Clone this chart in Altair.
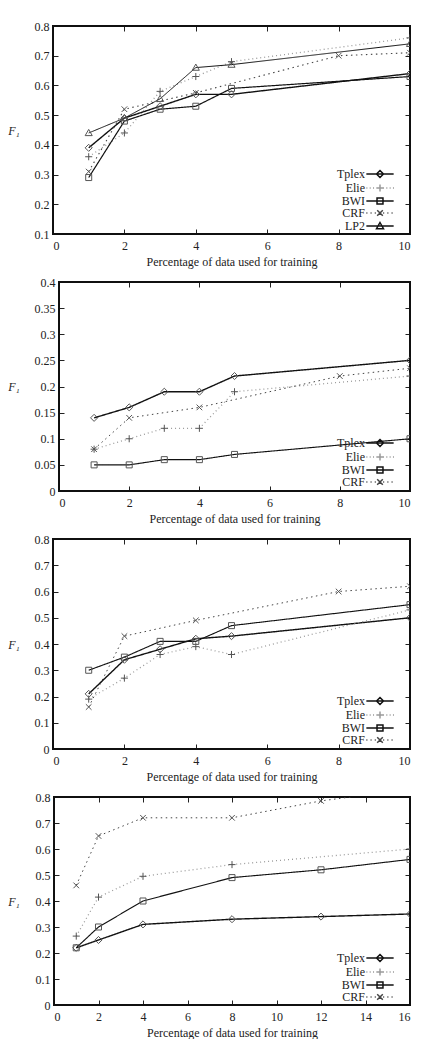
import altair as alt
import pandas as pd

# ---- data -------------------------------------------------------------
# Panel 1
P1_X = [1, 2, 3, 4, 5, 10]
P1_TPLEX = [0.39, 0.49, 0.53, 0.57, 0.57, 0.64]
P1_ELIE = [0.36, 0.44, 0.58, 0.63, 0.68, 0.76]
P1_BWI = [0.29, 0.48, 0.52, 0.53, 0.59, 0.63]
P1_LP2 = [0.44, 0.49, 0.555, 0.66, 0.67, 0.74]
P1_CRF_X = [1, 2, 4, 8, 10]
P1_CRF = [0.31, 0.52, 0.575, 0.70, 0.71]

# Panel 2
P2_X = [1, 2, 3, 4, 5, 10]
P2_TPLEX = [0.14, 0.16, 0.19, 0.19, 0.22, 0.25]
P2_ELIE = [0.08, 0.10, 0.12, 0.12, 0.19, 0.22]
P2_BWI = [0.05, 0.05, 0.06, 0.06, 0.07, 0.10]
P2_CRF_X = [1, 2, 4, 8, 10]
P2_CRF = [0.08, 0.14, 0.16, 0.22, 0.235]

# Panel 3
P3_X = [1, 2, 3, 4, 5, 10]
P3_TPLEX = [0.21, 0.34, 0.38, 0.42, 0.43, 0.50]
P3_ELIE = [0.19, 0.27, 0.36, 0.39, 0.36, 0.53]
P3_BWI = [0.30, 0.35, 0.41, 0.41, 0.47, 0.55]
P3_CRF_X = [1, 2, 4, 8, 10]
P3_CRF = [0.16, 0.43, 0.49, 0.60, 0.62]

# Panel 4
P4_X = [1, 2, 4, 8, 12, 16]
P4_TPLEX = [0.22, 0.25, 0.31, 0.33, 0.34, 0.35]
P4_ELIE_X = [1, 2, 4, 8, 16]
P4_ELIE = [0.265, 0.415, 0.495, 0.54, 0.60]
P4_BWI = [0.22, 0.30, 0.40, 0.49, 0.52, 0.56]
P4_CRF = [0.46, 0.65, 0.72, 0.72, 0.785, 0.83]

# Axis ticks
X_TICKS_10 = [0, 2, 4, 6, 8, 10]
X_TICKS_16 = [0, 2, 4, 6, 8, 10, 12, 14, 16]
Y_TICKS_1 = [0.1, 0.2, 0.3, 0.4, 0.5, 0.6, 0.7, 0.8]
Y_TICKS_2 = [0, 0.05, 0.1, 0.15, 0.2, 0.25, 0.3, 0.35, 0.4]
Y_TICKS_3 = [0, 0.1, 0.2, 0.3, 0.4, 0.5, 0.6, 0.7, 0.8]

X_TITLE = "Percentage of data used for training"
Y_TITLE = "F₁"

# ---- styles -----------------------------------------------------------
FONT = "Liberation Serif"
COLOR = {"Tplex": "#111111", "Elie": "#9a9a9a", "BWI": "#111111",
         "CRF": "#444444", "LP2": "#111111"}
WIDTH = {"Tplex": 1.4, "Elie": 1.0, "BWI": 2.0, "CRF": 1.3, "LP2": 2.2}
DASH = {"Tplex": [1, 0], "Elie": [1, 3], "BWI": [1, 0],
        "CRF": [1.5, 3.5], "LP2": [1, 0]}
MARKER = {
    "Tplex": "M0,-1L1,0L0,1L-1,0Z",
    "Elie": "M-1,0H1M0,-1V1",
    "BWI": "M-0.85,-0.85H0.85V0.85H-0.85Z",
    "CRF": "M-0.8,-0.8L0.8,0.8M-0.8,0.8L0.8,-0.8",
    "LP2": "M0,-1L1,0.75H-1Z",
}
DOTTED = {"Elie", "CRF"}


def shift_path(path, dx):
    """Move an absolute M/L/H/V path sideways by dx units."""
    tokens, num = [], ""
    for ch in path:
        if ch.isalpha():
            if num:
                tokens.append(num)
                num = ""
            tokens.append(ch)
        elif ch == ",":
            tokens.append(num)
            num = ""
        else:
            num += ch
    if num:
        tokens.append(num)
    out, cmd, coord = [], None, 0
    for t in tokens:
        if t.isalpha():
            cmd, coord = t, 0
            out.append(t)
            continue
        v = float(t)
        if cmd in ("M", "L"):
            if coord % 2 == 0:
                v += dx
            out.append(("," if coord % 2 else "") + f"{v:g}")
            coord += 1
        elif cmd == "H":
            out.append(f"{v + dx:g}")
        else:
            out.append(f"{v:g}")
    return "".join(out)


def key_symbol(name, half=3.9, dx=6.0):
    """Legend sample: a short line (solid or dotted) with the marker on it,
    drawn to the right of the entry so the label can sit before it."""
    if name in DOTTED:
        step = 0.95 if name == "Elie" else 1.2
        segs = []
        x = -half
        while x < half:
            segs.append(f"M{x + dx:.2f},0h0.3")
            x += step
        line = "".join(segs)
    else:
        line = f"M{-half + dx:g},0H{half + dx:g}"
    return line + shift_path(MARKER[name], dx)


def long_table(series):
    rows = []
    for name, xs, ys in series:
        for x, y in zip(xs, ys):
            rows.append({"series": name, "x": x, "f1": y})
    return pd.DataFrame(rows)


def panel(series, xdom, xticks, ydom, yticks, height, key_y, inset=0):
    """One gnuplot-style panel; `inset` pushes the frame and y axis right."""
    width = 357
    df = long_table(series)
    names = [s[0] for s in series]
    xs = alt.Scale(domain=xdom, nice=False, zero=False, range=[inset, width])
    ys = alt.Scale(domain=ydom, nice=False, zero=False)

    bottom = alt.Axis(orient="bottom", values=xticks, tickSize=5, offset=-5,
                      domain=False, grid=False, labelPadding=6, format="d",
                      title=X_TITLE, titlePadding=5)
    left = alt.Axis(orient="left", values=yticks, tickSize=5, offset=-5 - inset,
                    domain=False, grid=False, labelPadding=4, format="~g",
                    title=Y_TITLE, titleAngle=0, titleFontStyle="italic",
                    titleX=-44.5 - inset, titleY=height / 2, titleAlign="center",
                    titleBaseline="middle")
    top = alt.Axis(orient="top", values=xticks, tickSize=5, offset=-5,
                   domain=False, grid=False, labels=False, title=None)
    right = alt.Axis(orient="right", values=yticks, tickSize=5, offset=-5,
                     domain=False, grid=False, labels=False, title=None)

    frame = alt.Chart(df).mark_rect(filled=False, stroke="#111111", strokeWidth=1.4).encode(
        x=alt.X(datum=xdom[0], type="quantitative", scale=xs, axis=bottom),
        x2=alt.datum(xdom[1]),
        y=alt.Y(datum=ydom[0], type="quantitative", scale=ys, axis=left),
        y2=alt.datum(ydom[1]),
    )
    lines = alt.Chart(df).mark_line(clip=True).encode(
        x=alt.X("x:Q", scale=xs, axis=None),
        y=alt.Y("f1:Q", scale=ys, axis=None),
        color=alt.Color("series:N", scale=alt.Scale(domain=names, range=[COLOR[n] for n in names]), legend=None),
        strokeDash=alt.StrokeDash("series:N", scale=alt.Scale(domain=names, range=[DASH[n] for n in names]), legend=None),
        strokeWidth=alt.StrokeWidth("series:N", scale=alt.Scale(domain=names, range=[WIDTH[n] for n in names]), legend=None),
    )
    points = alt.Chart(df).mark_point(clip=True, filled=False, color="#555555",
                                      strokeWidth=1, size=50, opacity=1).encode(
        x=alt.X("x:Q", scale=xs, axis=None),
        y=alt.Y("f1:Q", scale=ys, axis=None),
        shape=alt.Shape("series:N", scale=alt.Scale(domain=names, range=[MARKER[n] for n in names]), legend=None),
    )
    key_legend = alt.Legend(orient="none", legendX=300, legendY=key_y, title=None,
                            labelAlign="right", labelOffset=0, labelFont=FONT,
                            labelFontSize=12, labelColor="#222222", rowPadding=0,
                            padding=0, symbolSize=49, labelLimit=200)
    key = alt.Chart(df).transform_filter("false").mark_point(
        filled=False, size=49, strokeWidth=1.2, opacity=1).encode(
        x=alt.X("x:Q", scale=xs, axis=top),
        y=alt.Y("f1:Q", scale=ys, axis=right),
        shape=alt.Shape("series:N", scale=alt.Scale(domain=names, range=[key_symbol(n) for n in names]), legend=key_legend),
        color=alt.Color("series:N", scale=alt.Scale(domain=names, range=[COLOR[n] for n in names]), legend=key_legend),
    )
    return (
        alt.layer(frame, lines, points, key)
        .resolve_scale(shape="independent", color="independent")
        .resolve_axis(x="independent", y="independent")
        .properties(width=width, height=height)
    )


p1 = panel([("Tplex", P1_X, P1_TPLEX), ("Elie", P1_X, P1_ELIE), ("BWI", P1_X, P1_BWI),
            ("CRF", P1_CRF_X, P1_CRF), ("LP2", P1_X, P1_LP2)],
           [0, 10], X_TICKS_10, [0.1, 0.8], Y_TICKS_1, 208, 142)
p2 = panel([("Tplex", P2_X, P2_TPLEX), ("Elie", P2_X, P2_ELIE), ("BWI", P2_X, P2_BWI),
            ("CRF", P2_CRF_X, P2_CRF)],
           [0, 10], X_TICKS_10, [0, 0.4], Y_TICKS_2, 209, 155, inset=6)
p3 = panel([("Tplex", P3_X, P3_TPLEX), ("Elie", P3_X, P3_ELIE), ("BWI", P3_X, P3_BWI),
            ("CRF", P3_CRF_X, P3_CRF)],
           [0, 10], X_TICKS_10, [0, 0.8], Y_TICKS_3, 210, 156)
p4 = panel([("Tplex", P4_X, P4_TPLEX), ("Elie", P4_ELIE_X, P4_ELIE), ("BWI", P4_X, P4_BWI),
            ("CRF", P4_X, P4_CRF)],
           [0, 16], X_TICKS_16, [0, 0.8], Y_TICKS_3, 208, 155, inset=1)

chart = (
    alt.concat(p1, p2, p3, p4, columns=1, spacing=7)
    .resolve_scale(color="independent", shape="independent",
                   strokeDash="independent", strokeWidth="independent")
    .resolve_legend(color="independent", shape="independent")
    .properties(padding={"top": 19, "left": 7, "right": 5, "bottom": 0}, background="white")
    .configure_view(stroke="transparent")
    .configure_axis(labelFont=FONT, labelFontSize=12, labelColor="#222222",
                    titleFont=FONT, titleFontSize=12, titleColor="#222222",
                    titleFontWeight="normal", tickColor="#222222", tickWidth=1)
)

chart.save("out.html", embed_options={"renderer": "svg", "actions": False})
